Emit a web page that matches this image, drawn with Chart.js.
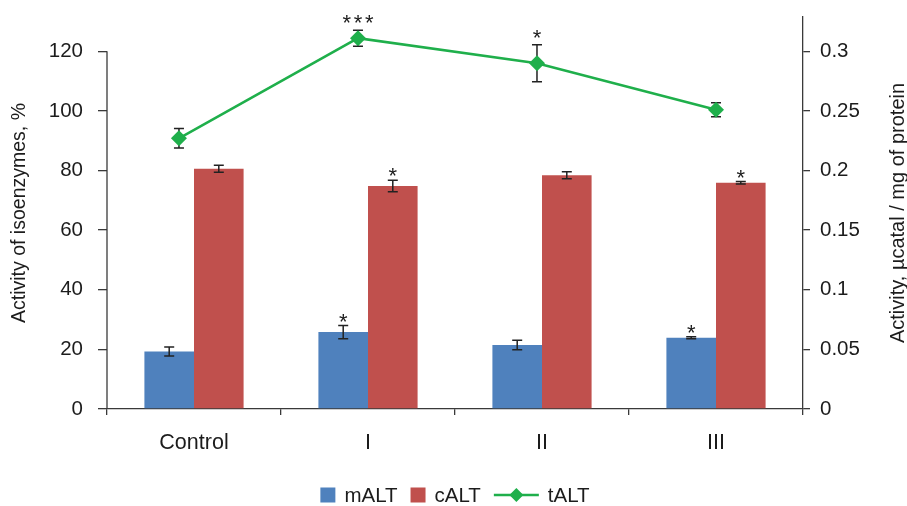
<!DOCTYPE html>
<html>
<head>
<meta charset="utf-8">
<script src="https://cdn.jsdelivr.net/npm/chart.js@4.4.1/dist/chart.umd.min.js"></script>
<style>
html, body { margin: 0; padding: 0; background: #fff; }
#wrap { position: relative; width: 907px; height: 506px; }
#wrap canvas { position: absolute; left: 0; top: 0; }
</style>
</head>
<body>
<div id="wrap">
  <canvas id="bars" width="907" height="506"></canvas>
  <canvas id="line" width="907" height="506"></canvas>
</div>
<script>
// groups on the x axis
const groups = ['Control', 'I', 'II', 'III'];

// isoenzymes, % (left axis)
const mALT = [19.3, 25.8, 21.5, 23.9];
const mALTErr = [1.5, 2.2, 1.6, 0.3];
const mALTSig = ['', '*', '', '*'];

const cALT = [80.6, 74.8, 78.4, 75.9];
const cALTErr = [1.2, 1.9, 1.2, 0.4];
const cALTSig = ['', '*', '', '*'];

// total activity, µcatal/mg of protein (right axis)
const tALT = [0.227, 0.311, 0.290, 0.251];
const tALTErr = [0.0082, 0.0067, 0.0155, 0.0059];
const tALTSig = ['', '***', '*', ''];

const leftTickMax = 120;
const rightTickMax = 0.3;
const leftMax = 131.5;
const rightMax = leftMax / 400;
const leftTitle = 'Activity of isoenzymes, %';
const rightTitle = 'Activity, \u00b5catal / mg of protein';

const FONT = "'Liberation Sans', Arial, sans-serif";
const TXT = '#1c1c1c';
const AXIS = '#3a3a3a';

// the secondary (line) series sits on its own horizontal scale, like the Excel original,
// so it is drawn by a second chart laid exactly over the plot area of the first one
function drawErr(chart, i) {
    const ds = chart.data.datasets[i];
    const meta = chart.getDatasetMeta(i);
    const ys = chart.scales[meta.yAxisID];
    const ctx = chart.ctx;
    ctx.save();
    ctx.strokeStyle = '#222';
    ctx.lineWidth = 1.5;
    meta.data.forEach((el, j) => {
        const v = ds.vals[j], e = ds.errs[j];
        const top = ys.getPixelForValue(v + e), bot = ys.getPixelForValue(v - e);
        ctx.beginPath();
        ctx.moveTo(el.x, top); ctx.lineTo(el.x, bot);
        ctx.moveTo(el.x - 5, top); ctx.lineTo(el.x + 5, top);
        ctx.moveTo(el.x - 5, bot); ctx.lineTo(el.x + 5, bot);
        ctx.stroke();
    });
    ctx.restore();
}

function drawSig(chart, lift) {
    const ctx = chart.ctx;
    ctx.save();
    ctx.fillStyle = TXT;
    ctx.font = '22px ' + FONT;
    ctx.textAlign = 'center';
    ctx.textBaseline = 'alphabetic';
    chart.data.datasets.forEach((ds, i) => {
        const meta = chart.getDatasetMeta(i);
        const ys = chart.scales[meta.yAxisID];
        meta.data.forEach((el, j) => {
            const s = ds.sig[j];
            if (!s) return;
            const top = ys.getPixelForValue(ds.vals[j] + ds.errs[j]);
            for (let k = 0; k < s.length; k++) {
                ctx.fillText(s[k], el.x + (k - (s.length - 1) / 2) * 11.3, top + 3 - lift);
            }
        });
    });
    ctx.restore();
}

const barExtras = {
    id: 'barExtras',
    afterDatasetDraw(chart, args) { drawErr(chart, args.index); },
    afterDraw(chart) {
        const ctx = chart.ctx, area = chart.chartArea;
        ctx.save();
        // left axis line stops at the last tick
        const y = chart.scales.y;
        ctx.strokeStyle = AXIS;
        ctx.lineWidth = 1.3;
        ctx.beginPath();
        ctx.moveTo(area.left, y.getPixelForValue(0));
        ctx.lineTo(area.left, y.getPixelForValue(leftTickMax));
        ctx.stroke();

        // axis titles
        const midY = (area.top + area.bottom) / 2;
        ctx.fillStyle = TXT;
        ctx.textAlign = 'center';
        ctx.textBaseline = 'middle';
        ctx.save();
        ctx.font = '19.5px ' + FONT;
        ctx.translate(20, midY);
        ctx.rotate(-Math.PI / 2);
        ctx.fillText(leftTitle, 0, 0);
        ctx.restore();
        ctx.save();
        ctx.font = '20px ' + FONT;
        ctx.translate(898, midY);
        ctx.rotate(-Math.PI / 2);
        ctx.fillText(rightTitle, 0, 0);
        ctx.restore();
        ctx.restore();
        drawSig(chart, 0);
    }
};

const noPad = s => { s.paddingTop = 0; s.paddingBottom = 0; };

const barChart = new Chart(document.getElementById('bars'), {
    type: 'bar',
    data: {
        labels: groups,
        datasets: [
            { label: 'mALT', data: mALT, vals: mALT, errs: mALTErr, sig: mALTSig,
              backgroundColor: '#4F81BD', barPercentage: 1, categoryPercentage: 0.57 },
            { label: 'cALT', data: cALT, vals: cALT, errs: cALTErr, sig: cALTSig,
              backgroundColor: '#C0504D', barPercentage: 1, categoryPercentage: 0.57 }
        ]
    },
    options: {
        responsive: false,
        animation: false,
        devicePixelRatio: 1,
        layout: { padding: { top: 17, left: 0, right: 0, bottom: 0 } },
        plugins: { legend: { display: false }, tooltip: { enabled: false } },
        scales: {
            x: {
                type: 'category', offset: true,
                grid: { offset: true, drawOnChartArea: false, tickLength: 6, color: AXIS, lineWidth: 1.3 },
                border: { color: AXIS, width: 1.3 },
                ticks: { padding: 15, color: TXT, font: { family: FONT, size: 21.5 } },
                afterFit: s => { s.height = 97; }
            },
            y: {
                position: 'left', min: 0, max: leftMax,
                ticks: { stepSize: 20, padding: 15, color: TXT, font: { family: FONT, size: 20.5 } },
                afterBuildTicks: s => { s.ticks = s.ticks.filter(t => t.value <= leftTickMax + 1e-6); },
                grid: { drawOnChartArea: false, tickLength: 9, color: AXIS, lineWidth: 1.3 },
                border: { display: false },
                afterFit: s => { s.width = 107; noPad(s); }
            },
            y1: {
                type: 'linear', position: 'right', min: 0, max: rightMax,
                ticks: { stepSize: 0.05, padding: 10, color: TXT, font: { family: FONT, size: 20.5 },
                         callback: v => String(+v.toFixed(2)) },
                afterBuildTicks: s => { s.ticks = s.ticks.filter(t => t.value <= rightTickMax + 1e-6); },
                grid: { drawOnChartArea: false, tickLength: 7, color: AXIS, lineWidth: 1.3 },
                border: { color: AXIS, width: 1.3 },
                afterFit: s => { s.width = 104; noPad(s); }
            }
        }
    },
    plugins: [barExtras]
});

const area = barChart.chartArea;

const lineExtras = {
    id: 'lineExtras',
    beforeDatasetDraw(chart, args) { drawErr(chart, args.index); },
    afterDraw(chart) {
        drawSig(chart, 3);

        // legend for both charts
        const ctx = chart.ctx;
        ctx.save();
        ctx.font = '20.5px ' + FONT;
        ctx.textAlign = 'left';
        ctx.textBaseline = 'middle';
        const items = barChart.data.datasets.map(ds => ({ label: ds.label, color: ds.backgroundColor, line: false }))
            .concat(chart.data.datasets.map(ds => ({ label: ds.label, color: ds.borderColor, line: true })));
        let total = 0;
        items.forEach(it => {
            it.sw = it.line ? 45 : 15;
            it.w = it.sw + 9 + ctx.measureText(it.label).width;
            total += it.w;
        });
        total += 13 * (items.length - 1);
        let x = (area.left + area.right) / 2 - total / 2;
        const ly = 495;
        items.forEach(it => {
            ctx.fillStyle = it.color;
            if (it.line) {
                ctx.strokeStyle = it.color;
                ctx.lineWidth = 2.5;
                ctx.beginPath();
                ctx.moveTo(x, ly); ctx.lineTo(x + it.sw, ly);
                ctx.stroke();
                const cx = x + it.sw / 2;
                ctx.beginPath();
                ctx.moveTo(cx, ly - 7); ctx.lineTo(cx + 7, ly);
                ctx.lineTo(cx, ly + 7); ctx.lineTo(cx - 7, ly);
                ctx.closePath();
                ctx.fill();
            } else {
                ctx.fillRect(x, ly - 7.5, 15, 15);
            }
            ctx.fillStyle = TXT;
            ctx.fillText(it.label, x + it.sw + 9, ly + 1);
            x += it.w + 13;
        });
        ctx.restore();
    }
};

new Chart(document.getElementById('line'), {
    type: 'line',
    data: {
        datasets: [
            { label: 'tALT', data: tALT.map((v, i) => ({ x: i, y: v })),
              vals: tALT, errs: tALTErr, sig: tALTSig,
              borderColor: '#1FAF4B', backgroundColor: '#1FAF4B', borderWidth: 2.5,
              pointStyle: 'rectRot', pointRadius: 8, pointBorderWidth: 0,
              xAxisID: 'xl', yAxisID: 'y1' }
        ]
    },
    options: {
        responsive: false,
        animation: false,
        devicePixelRatio: 1,
        layout: { padding: { left: area.left, right: 907 - area.right, top: area.top, bottom: 506 - area.bottom } },
        plugins: { legend: { display: false }, tooltip: { enabled: false } },
        scales: {
            xl: { type: 'linear', display: false, offset: false, min: -0.402, max: 3.486 },
            y1: { type: 'linear', display: false, min: 0, max: rightMax }
        }
    },
    plugins: [lineExtras]
});
</script>
</body>
</html>
